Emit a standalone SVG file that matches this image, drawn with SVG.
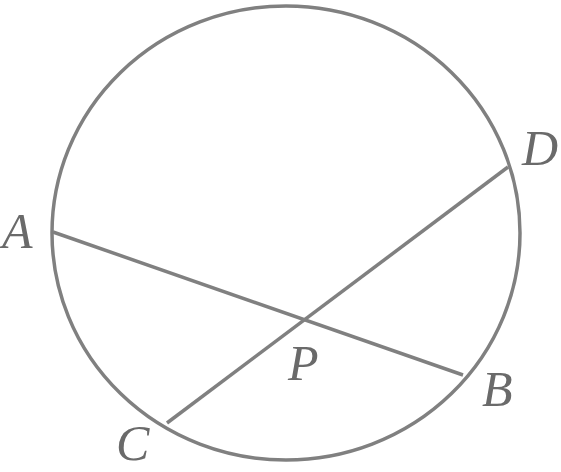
<svg xmlns="http://www.w3.org/2000/svg" width="561" height="472" viewBox="0 0 561 472">
<style>
.ln{fill:none;stroke:#808080;stroke-width:3.5}
.lb{font-family:"Liberation Serif",serif;font-style:italic;font-size:50px;fill:#6a6a6a}
</style>
<rect width="561" height="472" fill="#fff"/>
<g id="circle"><ellipse class="ln" cx="286" cy="233" rx="234" ry="227"/></g>
<g id="connectors">
<line class="ln" x1="53" y1="232" x2="463" y2="375"/>
<line class="ln" x1="167" y1="423" x2="508" y2="167"/>
</g>
<g id="A"><text class="lb" x="2" y="248">A</text></g>
<g id="D"><text class="lb" x="522" y="165">D</text></g>
<g id="B"><text class="lb" x="482" y="406">B</text></g>
<g id="C"><text class="lb" x="116" y="460">C</text></g>
<g id="P"><text class="lb" x="288" y="380">P</text></g>
</svg>
